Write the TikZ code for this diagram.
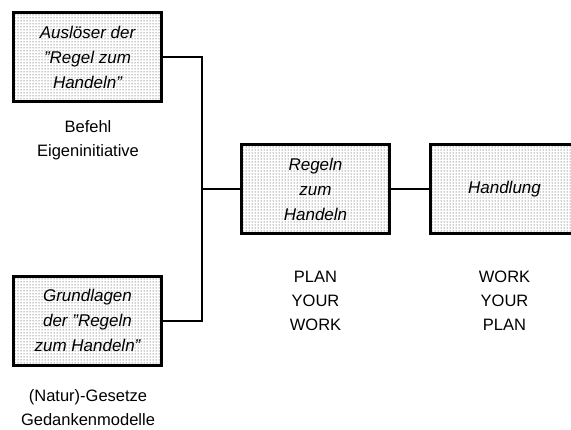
\documentclass[tikz,border=0pt]{standalone}
\usepackage{fontspec}
\setmainfont{Liberation Sans}
\usetikzlibrary{patterns}

\tikzset{
  regelbox/.style={draw, line width=3pt, pattern=dots, pattern color=black!85,
    minimum width=148pt, minimum height=89pt, align=center,
    font=\fontsize{17}{25}\selectfont\itshape},
  notiz/.style={align=center, font=\fontsize{16.5}{24}\selectfont},
  linie/.style={line width=2pt}
}

\begin{document}
\begin{tikzpicture}[x=1pt, y=-1pt]
  \clip (0,0) rectangle (571,429);

  % Boxes
  \node[regelbox] (ausloeser) at (87.5,57) {Ausl\"oser der\\"Regel zum\\Handeln"};
  \node[regelbox] (grundlagen) at (87.5,320.5) {Grundlagen\\der "Regeln\\zum Handeln"};
  \node[regelbox] (regeln) at (315.5,189) {Regeln\\zum\\Handeln};
  \node[regelbox] (handlung) at (504.5,189) {Handlung};

  % Connectors
  \coordinate (knick) at (202,189);
  \draw[linie] (ausloeser.east) -| (knick) |- (grundlagen.east);
  \draw[linie] (knick) -- (regeln.west);
  \draw[linie] (regeln.east) -- (handlung.west);

  % Notes
  \node[notiz] (befehl) at (88,140) {Befehl\\Eigeninitiative};
  \node[notiz] (gesetze) at (88,408) {(Natur)-Gesetze\\Gedankenmodelle};
  \node[notiz] (plan) at (315.5,301) {PLAN\\YOUR\\WORK};
  \node[notiz] (work) at (504.5,301) {WORK\\YOUR\\PLAN};
\end{tikzpicture}
\end{document}
